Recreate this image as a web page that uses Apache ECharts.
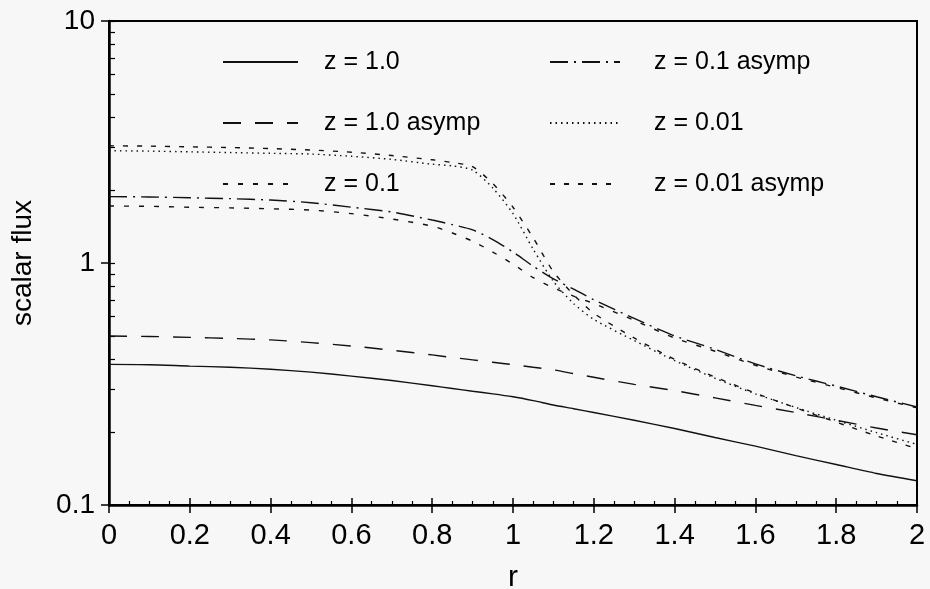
<!DOCTYPE html>
<html>
<head>
<meta charset="utf-8">
<script src="https://cdn.jsdelivr.net/npm/echarts@6/dist/echarts.min.js"></script>
<style>html,body{margin:0;padding:0;background:#f7f7f7;}#c{width:930px;height:589px;}</style>
</head>
<body>
<div id="c"></div>
<script>
// ---- data ----
const rValues = [0,0.1,0.2,0.3,0.4,0.5,0.6,0.7,0.8,0.85,0.9,0.95,1.0,1.05,1.1,1.15,1.2,1.3,1.4,1.5,1.6,1.7,1.8,1.9,2.0];
const fluxZ1      = [0.381,0.380,0.375,0.371,0.364,0.354,0.341,0.327,0.311,0.303,0.295,0.288,0.280,0.270,0.259,0.250,0.241,0.224,0.207,0.190,0.175,0.160,0.147,0.135,0.126];
const fluxZ1Asymp = [0.499,0.497,0.493,0.488,0.481,0.469,0.454,0.436,0.417,0.407,0.398,0.389,0.380,0.371,0.362,0.349,0.337,0.315,0.297,0.277,0.258,0.241,0.224,0.208,0.195];
const fluxZ01     = [1.72,1.715,1.70,1.69,1.675,1.655,1.60,1.52,1.42,1.33,1.23,1.11,0.99,0.87,0.79,0.73,0.68,0.58,0.49,0.432,0.378,0.338,0.306,0.277,0.252];
const fluxZ01Asymp= [1.88,1.875,1.86,1.845,1.82,1.775,1.70,1.625,1.505,1.44,1.37,1.25,1.11,0.97,0.86,0.78,0.705,0.59,0.50,0.44,0.383,0.342,0.31,0.28,0.254];
const fluxZ001    = [2.91,2.90,2.88,2.86,2.84,2.82,2.76,2.68,2.56,2.52,2.42,2.04,1.60,1.14,0.84,0.68,0.585,0.478,0.395,0.334,0.288,0.253,0.224,0.199,0.178];
const fluxZ001Asymp=[3.05,3.04,3.02,3.00,2.97,2.93,2.87,2.78,2.67,2.60,2.50,2.13,1.70,1.27,0.92,0.74,0.62,0.49,0.40,0.338,0.290,0.252,0.220,0.193,0.171];
const seriesNames = ['z = 1.0','z = 1.0 asymp','z = 0.1','z = 0.1 asymp','z = 0.01','z = 0.01 asymp'];
const yTickValues = [0.1,0.2,0.3,0.4,0.5,0.6,0.7,0.8,0.9,1,2,3,4,5,6,7,8,9,10];

const FONT = 'Liberation Sans, Arial, Helvetica, sans-serif';
const pair = arr => rValues.map((r,i)=>[r,arr[i]]);
const dashes = ['solid',[18,14],[5,10],[18,6,2,6],[1.5,4],[5,9]];
const allData = [fluxZ1,fluxZ1Asymp,fluxZ01,fluxZ01Asymp,fluxZ001,fluxZ001Asymp];

const series = allData.map((d,i)=>({
  name: seriesNames[i], type:'line', xAxisIndex:0, yAxisIndex:0,
  symbol:'none', smooth:0.25, silent:true, animation:false,
  lineStyle:{color:'#111', width:1.4, type:dashes[i]},
  itemStyle:{color:'#111'},
  data: pair(d)
}));

const chart = echarts.init(document.getElementById('c'), null, {renderer:'canvas'});
chart.setOption({
  backgroundColor:'#f7f7f7',
  animation:false,
  grid:{left:109, right:13, top:21, bottom:84, outerBoundsMode:'none', containLabel:false,
        show:true, borderColor:'#000', borderWidth:2, backgroundColor:'transparent'},
  legend:[
    {orient:'vertical', padding:0, left:222, top:49, itemWidth:75, itemHeight:12, itemGap:35,
     data:seriesNames.slice(0,3), itemStyle:{opacity:0}, selectedMode:false,
     textStyle:{fontFamily:FONT, fontSize:25, color:'#000', lineHeight:26, padding:[0,0,0,21]}},
    {orient:'vertical', padding:0, left:549, top:49, itemWidth:70, itemHeight:12, itemGap:35,
     data:seriesNames.slice(3), itemStyle:{opacity:0}, selectedMode:false,
     textStyle:{fontFamily:FONT, fontSize:25, color:'#000', lineHeight:26, padding:[0,0,0,29]}}
  ],
  xAxis:[
    {type:'value', min:0, max:2, interval:0.2, position:'bottom',
     name:'r', nameLocation:'middle', nameGap:58,
     nameTextStyle:{fontFamily:FONT, fontSize:30, color:'#000'},
     axisLine:{onZero:false, lineStyle:{color:'#000', width:2.5}},
     axisTick:{show:true, inside:false, length:8, lineStyle:{color:'#000', width:1.5}},
     axisLabel:{fontFamily:FONT, fontSize:29, color:'#000', margin:16,
       formatter: v => String(+v.toFixed(1))},
     splitLine:{show:false}},
    {type:'value', min:0, max:2, interval:0.2, position:'bottom',
     axisLine:{show:false, onZero:false},
     axisTick:{show:true, inside:true, length:7, lineStyle:{color:'#000', width:1.5}},
     minorTick:{show:true, splitNumber:4, length:4, lineStyle:{color:'#000', width:1.2}},
     axisLabel:{show:false}, splitLine:{show:false}}
  ],
  yAxis:[
    {type:'log', logBase:10, min:0.1, max:10, position:'left',
     name:'scalar flux', nameLocation:'middle', nameGap:72,
     nameTextStyle:{fontFamily:FONT, fontSize:28, color:'#000'},
     axisLine:{onZero:false, lineStyle:{color:'#000', width:2.5}},
     axisTick:{show:true, inside:false, length:8, lineStyle:{color:'#000', width:1.5}},
     axisLabel:{fontFamily:FONT, fontSize:28, color:'#000', margin:14,
       formatter: v => String(+(+v).toPrecision(2))},
     splitLine:{show:false}},
    {type:'log', logBase:10, min:0.1, max:10, position:'left',
     axisLine:{show:false, onZero:false},
     axisTick:{show:true, inside:true, length:6, customValues:yTickValues, lineStyle:{color:'#000', width:1.2}},
     axisLabel:{show:false}, splitLine:{show:false}}
  ],
  series: series
});
</script>
</body>
</html>
